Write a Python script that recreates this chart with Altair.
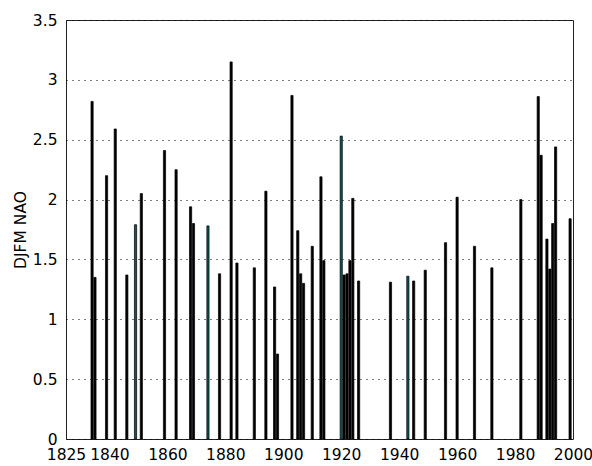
import altair as alt
import pandas as pd

years = [1834, 1835, 1839, 1842, 1846, 1849, 1851, 1859, 1863, 1868, 1869, 1874,
         1878, 1882, 1884, 1890, 1894, 1897, 1898, 1903, 1905, 1906, 1907, 1910,
         1913, 1914, 1920, 1921, 1922, 1923, 1924, 1926, 1937, 1943, 1945, 1949,
         1956, 1960, 1966, 1972, 1982, 1988, 1989, 1991, 1992, 1993, 1994, 1999]
nao = [2.82, 1.35, 2.20, 2.59, 1.37, 1.79, 2.05, 2.41, 2.25, 1.94, 1.80, 1.78,
       1.38, 3.15, 1.47, 1.43, 2.07, 1.27, 0.71, 2.87, 1.74, 1.38, 1.30, 1.61,
       2.19, 1.49, 2.53, 1.37, 1.38, 1.49, 2.01, 1.32, 1.31, 1.36, 1.32, 1.41,
       1.64, 2.02, 1.61, 1.43, 2.00, 2.86, 2.37, 1.67, 1.42, 1.80, 2.44, 1.84]
teal_years = [1849, 1874, 1920, 1943]

x_ticks = [1825, 1840, 1860, 1880, 1900, 1920, 1940, 1960, 1980, 2000]
y_ticks = [0, 0.5, 1, 1.5, 2, 2.5, 3, 3.5]

df = pd.DataFrame({"year": years, "nao": nao})
df["group"] = ["teal" if y in teal_years else "black" for y in years]

FONT = "DejaVu Sans"

chart = (
    alt.Chart(df)
    .transform_calculate(x0="datum.year - 0.38", x1="datum.year + 0.38")
    .mark_rect(stroke="black", strokeWidth=0.7)
    .encode(
        x=alt.X(
            "x0:Q",
            scale=alt.Scale(domain=[1825, 2000], nice=False, zero=False),
            axis=alt.Axis(
                values=x_ticks, format="d", title=None, grid=False, ticks=False,
                domain=False, labelOverlap=False, labelFlush=False, labelBound=False,
                labelFont=FONT, labelFontSize=15.5, labelColor="black", labelPadding=8,
            ),
        ),
        x2="x1:Q",
        y=alt.Y(
            "nao:Q",
            scale=alt.Scale(domain=[0, 3.5], nice=False),
            axis=alt.Axis(
                values=y_ticks, format="~g", grid=True, gridColor="black",
                gridDash=[1, 5], gridWidth=1, ticks=False, domain=False,
                labelFont=FONT, labelFontSize=15.5, labelColor="black", labelPadding=9,
                title="DJFM NAO", titleFont=FONT, titleFontSize=15.5,
                titleFontWeight="normal", titleColor="black",
                titleX=-46, titleY=209.5, titleAngle=-90,
                titleAlign="center", titleBaseline="middle",
            ),
        ),
        y2=alt.datum(0),
        fill=alt.Fill(
            "group:N",
            scale=alt.Scale(domain=["black", "teal"], range=["black", "#0a5858"]),
            legend=None,
        ),
    )
    .properties(
        width=507,
        height=419,
        autosize=alt.AutoSizeParams(type="none"),
        padding={"left": 66, "top": 20, "right": 19, "bottom": 27},
        background="white",
    )
    .configure_view(stroke="#222222", strokeWidth=1)
)

chart.save("out.html", embed_options={"renderer": "svg", "actions": False})
